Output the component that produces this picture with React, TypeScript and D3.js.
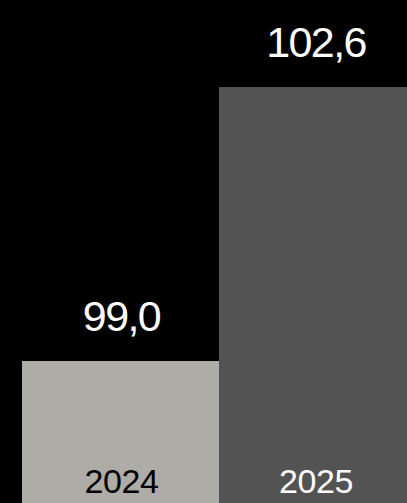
import React from "react";
import * as d3 from "d3";

const years = ["2024", "2025"];
const values = [99.0, 102.6];
const valueLabels = ["99,0", "102,6"];
const barColors = ["#adaca7", "#535353"];
const yearColors = ["#000000", "#ffffff"];

const W = 407;
const H = 503;

export default function App() {
  const x = d3.scaleBand<string>().domain(years).range([22, 416]).padding(0);
  const y = d3.scaleLinear().domain([97.134, 103.743]).range([H, 0]);
  const font = "'Liberation Sans', Arial, Helvetica, sans-serif";
  return (
    <svg
      width={W}
      height={H}
      style={{ position: "fixed", left: 0, top: 0, display: "block", background: "#000" }}
    >
      <rect x={0} y={0} width={W} height={H} fill="#000" />
      {years.map((yr, i) => {
        const x0 = x(yr)!;
        const bw = x.bandwidth();
        const top = y(values[i]);
        const cx = i === 1 ? 316 : x0 + bw / 2 + 1;
        return (
          <g key={yr}>
            <rect x={x0} y={top} width={bw} height={H - top} fill={barColors[i]} />
            <text
              x={cx}
              y={top - 30}
              textAnchor="middle"
              fill="#fff"
              fontFamily={font}
              fontSize={43}
              letterSpacing={-1.6}
            >
              {valueLabels[i]}
            </text>
            <text
              x={cx}
              y={493}
              textAnchor="middle"
              fill={yearColors[i]}
              fontFamily={font}
              fontSize={34}
              letterSpacing={-0.4}
            >
              {yr}
            </text>
          </g>
        );
      })}
    </svg>
  );
}
